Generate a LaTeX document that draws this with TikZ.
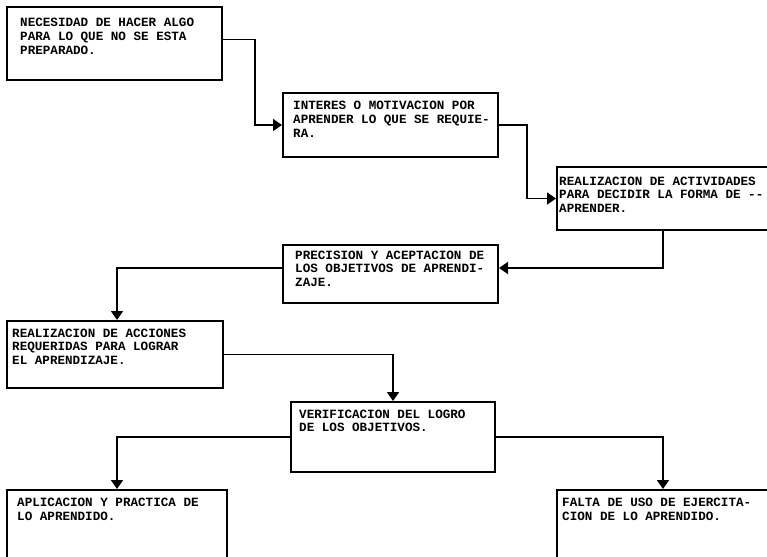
\documentclass[tikz,border=0pt]{standalone}
\usepackage{fontspec}
\newfontfamily\tw{Liberation Mono}
\usetikzlibrary{arrows.meta,calc}
\begin{document}
\begin{tikzpicture}[x=1pt,y=-1pt,
  boxed/.style={draw=black,line width=2pt,inner sep=0pt},
  lbl/.style={anchor=base west,align=left,inner sep=0pt,font=\tw\bfseries\fontsize{12.6}{13.6}\selectfont},
  conn/.style={draw=black,line width=1.6pt},
  arr/.style={conn,-{Triangle[width=12pt,length=9pt]}}]
\useasboundingbox (0,0) rectangle (767,556);
% boxes
\node[boxed,minimum width=215pt,minimum height=73pt] (b1) at (114.5,43.5) {};
\node[boxed,minimum width=215pt,minimum height=64pt] (b2) at (390.5,125) {};
\node[boxed,minimum width=212pt,minimum height=63pt] (b3) at (663,198.5) {};
\node[boxed,minimum width=215pt,minimum height=58pt] (b4) at (390.5,274) {};
\node[boxed,minimum width=216pt,minimum height=67pt] (b5) at (115,354.5) {};
\node[boxed,minimum width=204pt,minimum height=70pt] (b6) at (393,437) {};
\node[boxed,minimum width=220pt,minimum height=90pt] (b7) at (117,535) {};
\node[boxed,minimum width=212pt,minimum height=90pt] (b8) at (663,535) {};
% texts (anchor = baseline of last line)
\node[lbl] (t1) at (20,54.2) {NECESIDAD DE HACER ALGO\\PARA LO QUE NO SE ESTA\\PREPARADO.};
\node[lbl] (t2) at (293,137.2) {INTERES O MOTIVACION POR\\APRENDER LO QUE SE REQUIE-\\RA.};
\node[lbl] (t3) at (559,212.2) {REALIZACION DE ACTIVIDADES\\PARA DECIDIR LA FORMA DE -{}-\\APRENDER.};
\node[lbl] (t4) at (295,286.2) {PRECISION Y ACEPTACION DE\\LOS OBJETIVOS DE APRENDI-\\ZAJE.};
\node[lbl] (t5) at (12,364.2) {REALIZACION DE ACCIONES\\REQUERIDAS PARA LOGRAR\\EL APRENDIZAJE.};
\node[lbl] (t6) at (299,431.6) {VERIFICACION DEL LOGRO\\DE LOS OBJETIVOS.};
\node[lbl] (t7) at (17,520) {APLICACION Y PRACTICA DE\\LO APRENDIDO.};
\node[lbl] (t8) at (562,520) {FALTA DE USO DE EJERCITA-\\CION DE LO APRENDIDO.};
% connectors
\draw[arr] ([yshift=4pt]b1.east) -- ++(32,0) |- (b2.west);
\draw[arr] (b2.east) -- ++(28,0) |- (b3.west);
\draw[arr] (b3.south) |- ([yshift=6pt]b4.east);
\draw[arr] ([yshift=6pt]b4.west) -| ([xshift=2pt]b5.north);
\draw[arr] (b5.east) -| (b6.north);
\draw[arr] (b6.west) -| (b7.north);
\draw[arr] (b6.east) -| (b8.north);
\end{tikzpicture}
\end{document}
